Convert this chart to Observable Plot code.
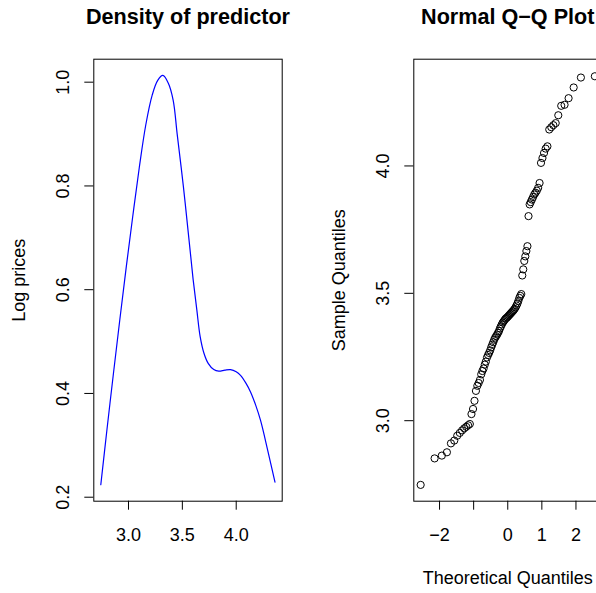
<!DOCTYPE html>
<html>
<head>
<meta charset="utf-8">
<script src="https://cdn.jsdelivr.net/npm/d3@7"></script>
<script src="https://cdn.jsdelivr.net/npm/@observablehq/plot@0.6"></script>
<style>
  html, body { margin: 0; padding: 0; background: white; overflow: hidden; }
  #wrap { position: relative; width: 596px; height: 593px; overflow: hidden; background: white; }
  #left, #right { position: absolute; top: 0; width: 320px; height: 593px; }
  #left { left: 0; }
  #right { left: 320px; }
  #wrap svg { max-width: none !important; }
</style>
</head>
<body>
<div id="wrap"><div id="left"></div><div id="right"></div></div>
<script>
// ---- Left panel: density curve ----
const densTitle = "Density of predictor";
const densYLabel = "Log prices";
const densX = [2.743, 2.80, 2.86, 2.92, 2.98, 3.04, 3.10, 3.16, 3.22, 3.27, 3.319, 3.37, 3.415, 3.452, 3.509, 3.56, 3.60, 3.635, 3.665, 3.70, 3.74, 3.792, 3.838, 3.895, 3.947, 4.00, 4.04, 4.09, 4.133, 4.18, 4.226, 4.293, 4.36];
const densY = [0.224, 0.330, 0.438, 0.543, 0.645, 0.742, 0.835, 0.917, 0.975, 1.003, 1.013, 0.998, 0.965, 0.900, 0.800, 0.700, 0.620, 0.560, 0.510, 0.478, 0.458, 0.446, 0.443, 0.445, 0.446, 0.442, 0.435, 0.420, 0.403, 0.378, 0.348, 0.290, 0.229];
const densXTicks = [3.0, 3.5, 4.0];
const densYTicks = [0.2, 0.4, 0.6, 0.8, 1.0];

// ---- Right panel: normal Q-Q plot ----
const qqTitle = "Normal Q\u2212Q Plot";
const qqXLabel = "Theoretical Quantiles";
const qqYLabel = "Sample Quantiles";
const theoretical = [-2.554, -2.145, -1.933, -1.784, -1.666, -1.568, -1.482, -1.406, -1.338, -1.276,
  -1.217, -1.163, -1.112, -1.064, -1.018, -0.975, -0.933, -0.892, -0.853, -0.815,
  -0.778, -0.743, -0.708, -0.674, -0.642, -0.609, -0.577, -0.546, -0.515, -0.485,
  -0.455, -0.426, -0.397, -0.368, -0.340, -0.311, -0.284, -0.256, -0.229, -0.202,
  -0.174, -0.147, -0.120, -0.094, -0.067, -0.040, -0.013,
  0.013, 0.040, 0.067, 0.094, 0.120, 0.147, 0.174, 0.202, 0.229, 0.256,
  0.284, 0.311, 0.340, 0.368, 0.397, 0.426, 0.455, 0.485, 0.515, 0.546,
  0.577, 0.609, 0.642, 0.674, 0.708, 0.743, 0.778, 0.815, 0.853, 0.892,
  0.933, 0.975, 1.018, 1.064, 1.112, 1.163, 1.217, 1.276, 1.338, 1.406,
  1.482, 1.568, 1.666, 1.784, 1.933, 2.145, 2.554];
const sample = [2.748, 2.852, 2.863, 2.876, 2.911, 2.922, 2.941, 2.952, 2.962, 2.970,
  2.976, 2.982, 2.987, 3.026, 3.046, 3.078, 3.117, 3.137, 3.148, 3.160,
  3.182, 3.195, 3.205, 3.220, 3.232, 3.248, 3.258, 3.266, 3.276, 3.288,
  3.298, 3.308, 3.318, 3.326, 3.332, 3.338, 3.345, 3.352, 3.362, 3.370,
  3.378, 3.385, 3.390, 3.395, 3.400, 3.403, 3.406,
  3.410, 3.414, 3.418, 3.422, 3.426, 3.430, 3.434, 3.439, 3.445, 3.452,
  3.460, 3.470, 3.482, 3.490, 3.497, 3.570, 3.594, 3.627, 3.645, 3.666,
  3.685, 3.803, 3.849, 3.858, 3.868, 3.878, 3.888, 3.895, 3.903, 3.914,
  3.933, 4.012, 4.031, 4.051, 4.068, 4.077, 4.143, 4.152, 4.160, 4.168,
  4.199, 4.236, 4.240, 4.266, 4.308, 4.347, 4.352];
const qqXTicks = [-2, -1, 0, 1, 2];
const qqXLabeled = [-2, 0, 1, 2];
const qqYTicks = [3.0, 3.5, 4.0];

const FONT = "'Liberation Sans', Arial, Helvetica, sans-serif";
const fmtR = d => (d < 0 ? "\u2212" + Math.abs(d) : String(d));
const fmt1 = d => d.toFixed(1);

const common = {
  width: 320, height: 593,
  marginLeft: 93.3, marginRight: 38.3, marginTop: 58.7, marginBottom: 92.3,
  style: {fontFamily: FONT, fontSize: "18px", background: "white", color: "black", overflow: "visible", maxWidth: "none"}
};

function axisMarks(xTicks, xLabeled, xFmt, yTicks, yFmt) {
  return [
    Plot.axisX({ticks: xTicks, tickSize: 9, tickFormat: () => "", label: null, anchor: "bottom"}),
    Plot.axisY({ticks: yTicks, tickSize: 9, tickFormat: () => "", label: null, anchor: "left"}),
    Plot.text(xLabeled, {x: d => d, text: xFmt, frameAnchor: "bottom", dy: 39.3, lineAnchor: "bottom", fontSize: 18, fill: "black"}),
    Plot.text(yTicks, {y: d => d, text: yFmt, frameAnchor: "left", dx: -24.5, rotate: -90, textAnchor: "middle", lineAnchor: "bottom", fontSize: 18, fill: "black"})
  ];
}

const densData = densX.map((x, i) => ({x, y: densY[i]}));
const left = Plot.plot({
  ...common,
  x: {domain: [2.678, 4.427], axis: null},
  y: {domain: [0.1923, 1.0443], axis: null},
  marks: [
    Plot.line(densData, {x: "x", y: "y", stroke: "#0000FF", strokeWidth: 1.2, curve: "catmull-rom"}),
    Plot.frame({stroke: "black", strokeWidth: 1}),
    ...axisMarks(densXTicks, densXTicks, fmt1, densYTicks, fmt1),
    Plot.text([densTitle], {frameAnchor: "top", dy: -35.7, lineAnchor: "bottom", fontSize: 21.6, fontWeight: "bold", fill: "black"}),
    Plot.text([densYLabel], {frameAnchor: "left", dx: -68.5, rotate: -90, textAnchor: "middle", lineAnchor: "bottom", fontSize: 18, fill: "black"})
  ]
});
document.getElementById("left").appendChild(left);

const qqData = theoretical.map((q, i) => ({q, v: sample[i]}));
const right = Plot.plot({
  ...common,
  marginRight: 38.8,
  x: {domain: [-2.755, 2.755], axis: null},
  y: {domain: [2.684, 4.419], axis: null},
  marks: [
    Plot.dot(qqData, {x: "q", y: "v", r: 3.6, stroke: "black", strokeWidth: 1, fill: "none"}),
    Plot.frame({stroke: "black", strokeWidth: 1}),
    ...axisMarks(qqXTicks, qqXLabeled, fmtR, qqYTicks, fmt1),
    Plot.text([qqTitle], {frameAnchor: "top", dy: -35.7, lineAnchor: "bottom", fontSize: 21.6, fontWeight: "bold", fill: "black"}),
    Plot.text([qqXLabel], {frameAnchor: "bottom", dy: 82.3, lineAnchor: "bottom", fontSize: 18, fill: "black"}),
    Plot.text([qqYLabel], {frameAnchor: "left", dx: -68.5, rotate: -90, textAnchor: "middle", lineAnchor: "bottom", fontSize: 18, fill: "black"})
  ]
});
document.getElementById("right").appendChild(right);
</script>
</body>
</html>
